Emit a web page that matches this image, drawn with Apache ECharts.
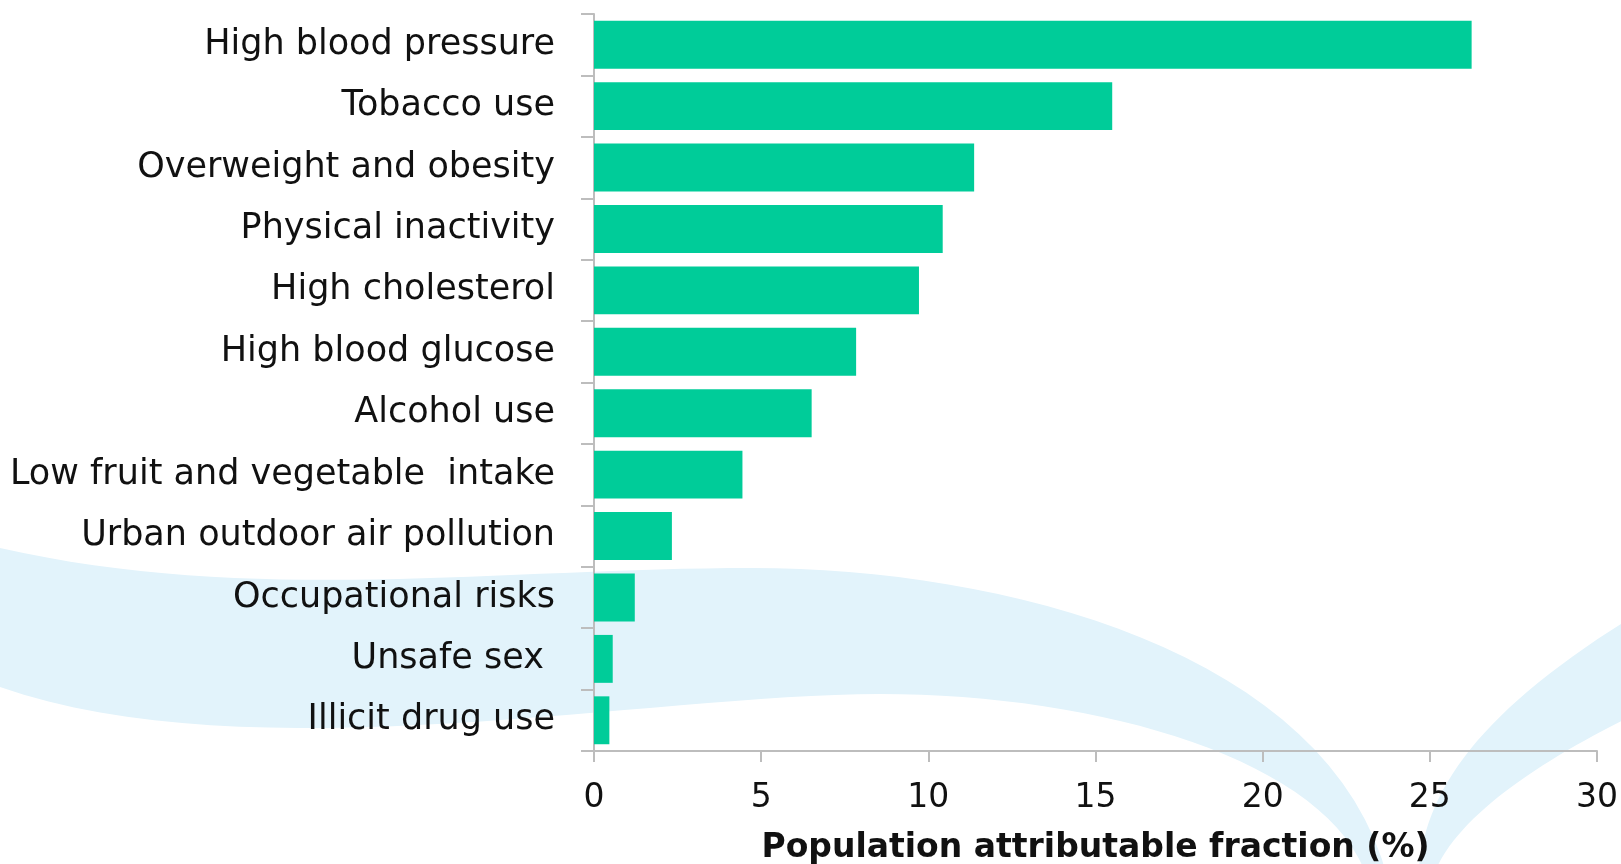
<!DOCTYPE html>
<html>
<head>
<meta charset="utf-8">
<script src="https://cdn.jsdelivr.net/npm/echarts@6/dist/echarts.min.js"></script>
<style>
  html, body { margin: 0; padding: 0; background: #fff; }
  #chart { width: 1621px; height: 864px; }
</style>
</head>
<body>
<div id="chart"></div>
<script>
const riskFactors = [
  'High blood pressure',
  'Tobacco use',
  'Overweight and obesity',
  'Physical inactivity',
  'High cholesterol',
  'High blood glucose',
  'Alcohol use',
  'Low fruit and vegetable  intake',
  'Urban outdoor air pollution',
  'Occupational risks',
  'Unsafe sex ',
  'Illicit drug use',
]
const attributableFraction = [26.25, 15.5, 11.37, 10.43, 9.72, 7.84, 6.51, 4.44, 2.33, 1.22, 0.56, 0.46]
const xTicks = { min: 0, max: 30, interval: 5 }

const font = '"DejaVu Sans", Verdana, sans-serif'
const swoosh = '#e2f3fb'

// turn a chain of cubic bezier segments into polygon points (background decoration only)
function curvePoints(start, segments) {
  const pts = [start]
  let p0 = start
  segments.forEach((seg) => {
    if (seg.length === 1) {
      pts.push(seg[0])
      p0 = seg[0]
      return
    }
    const [c1, c2, p3] = seg
    for (let i = 1; i <= 32; i++) {
      const t = i / 32
      const u = 1 - t
      pts.push([
        u * u * u * p0[0] + 3 * u * u * t * c1[0] + 3 * u * t * t * c2[0] + t * t * t * p3[0],
        u * u * u * p0[1] + 3 * u * u * t * c1[1] + 3 * u * t * t * c2[1] + t * t * t * p3[1],
      ])
    }
    p0 = p3
  })
  return pts
}

const leftBand = curvePoints([-40, 541], [
  [[0, 548]],
  [[250, 605], [500, 568], [753, 568]],
  [[1000, 568], [1330, 650], [1388, 880]],
  [[1368, 880]],
  [[1330, 760], [1100, 694], [880, 694]],
  [[650, 694], [250, 775], [0, 687]],
  [[-40, 678]],
])
const rightBand = curvePoints([1418, 880], [
  [[1422, 790], [1480, 710], [1640, 612]],
  [[1640, 712]],
  [[1540, 760], [1450, 820], [1432, 880]],
])

var myChart = echarts.init(document.getElementById('chart'))
const option = {
  backgroundColor: '#ffffff',
  animation: false,
  graphic: [
    { type: 'polygon', z: -10, shape: { points: leftBand }, style: { fill: swoosh } },
    { type: 'polygon', z: -10, shape: { points: rightBand }, style: { fill: swoosh } },
  ],
  grid: {
    left: 594,
    right: 24,
    top: 14,
    bottom: 113,
    containLabel: false,
    outerBoundsMode: 'none',
  },
  xAxis: {
    type: 'value',
    min: xTicks.min,
    max: xTicks.max,
    interval: xTicks.interval,
    name: 'Population attributable fraction (%)',
    nameLocation: 'middle',
    nameGap: 81,
    nameTextStyle: {
      fontFamily: font,
      fontSize: 33,
      fontWeight: 'bold',
      color: '#111',
    },
    splitLine: { show: false },
    axisLine: { show: true, lineStyle: { color: '#bdbdbd', width: 2 } },
    axisTick: { show: true, length: 11, lineStyle: { color: '#bdbdbd', width: 2 } },
    axisLabel: {
      margin: 31,
      fontFamily: font,
      fontSize: 33,
      color: '#111',
    },
  },
  yAxis: {
    type: 'category',
    inverse: true,
    data: riskFactors,
    axisLine: { show: true, lineStyle: { color: '#bdbdbd', width: 2 } },
    axisTick: { show: true, length: 13, lineStyle: { color: '#bdbdbd', width: 2 } },
    axisLabel: {
      margin: 39,
      fontFamily: font,
      fontSize: 35,
      color: '#111',
    },
  },
  series: [
    {
      type: 'bar',
      data: attributableFraction,
      barCategoryGap: '22%',
      itemStyle: { color: '#00cc99' },
    },
  ],
}

myChart.setOption(option)
</script>
</body>
</html>
